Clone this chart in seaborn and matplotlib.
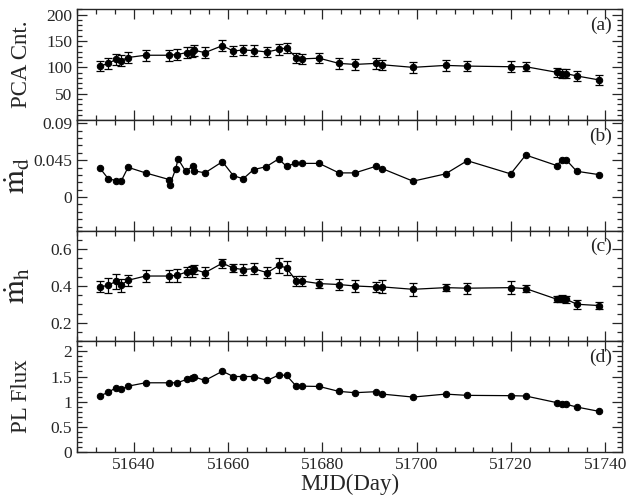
import numpy as np
import matplotlib
matplotlib.use("Agg")
import matplotlib.pyplot as plt
import seaborn as sns
from matplotlib.ticker import MultipleLocator, FixedLocator

# MJD of the observations (panels a, c, d)
mjd = [51632.9, 51634.6, 51636.2, 51637.3, 51638.8, 51642.5, 51647.5, 51649.2,
       51651.2, 51652.4, 51652.8, 51655.1, 51658.8, 51661.1, 51663.2, 51665.4,
       51668.3, 51670.8, 51672.4, 51674.5, 51675.6, 51679.3, 51683.5, 51686.9,
       51691.3, 51692.7, 51699.2, 51706.1, 51710.7, 51719.9, 51723.1, 51729.7,
       51730.7, 51731.7, 51733.9, 51738.6]

# panel (a) PCA count rate
pca = [102.4, 107.5, 115, 113, 118.7, 123, 123, 124.3, 128, 129, 132.4, 128,
       141.2, 131, 133, 131.8, 129.2, 134.3, 136.8, 118, 116.1, 117.4, 107.5,
       105.6, 107.5, 104.9, 100, 103.7, 102.4, 101.2, 101.2, 90.6, 88, 88,
       83.7, 76.2]
pca_err = [10, 10, 10, 10, 10, 10, 10, 10, 10, 10, 10, 10, 11, 10, 10, 10, 10,
           10, 10, 10, 10, 10, 10, 10, 10, 10, 10, 10, 10, 10, 9, 9, 9, 9, 9, 9]

# panel (b) disk accretion rate (few extra points)
mjd_b = [51632.8, 51634.6, 51636.2, 51637.4, 51638.8, 51642.5, 51647.5, 51647.6,
         51648.9, 51649.4, 51651.0, 51652.6, 51652.7, 51655.1, 51658.8, 51661.1,
         51663.2, 51665.4, 51668.1, 51670.7, 51672.4, 51674.2, 51675.6, 51679.3,
         51683.5, 51686.9, 51691.3, 51692.7, 51699.2, 51706.1, 51710.7, 51719.9,
         51723.1, 51729.7, 51730.7, 51731.7, 51733.9, 51738.6]
mdot_d = [0.0356, 0.0223, 0.0202, 0.0202, 0.0363, 0.0295, 0.0214, 0.0142,
          0.0344, 0.0465, 0.0315, 0.0380, 0.0322, 0.0295, 0.0432, 0.0262,
          0.0223, 0.0335, 0.0371, 0.0465, 0.0375, 0.0411, 0.0411, 0.0411,
          0.0295, 0.0295, 0.0375, 0.0347, 0.0194, 0.0283, 0.0444, 0.0283,
          0.0513, 0.0384, 0.0452, 0.0452, 0.0315, 0.0274]

# panel (c) halo accretion rate
mdot_h = [0.395, 0.404, 0.425, 0.404, 0.431, 0.454, 0.454, 0.458, 0.476, 0.481,
          0.490, 0.472, 0.524, 0.497, 0.489, 0.494, 0.472, 0.512, 0.497, 0.427,
          0.427, 0.413, 0.408, 0.400, 0.395, 0.395, 0.382, 0.391, 0.388, 0.391,
          0.386, 0.328, 0.332, 0.328, 0.301, 0.294]
mdot_h_err = [0.03, 0.04, 0.04, 0.035, 0.03, 0.03, 0.03, 0.035, 0.025, 0.03,
              0.025, 0.03, 0.025, 0.02, 0.03, 0.03, 0.03, 0.04, 0.04, 0.025,
              0.025, 0.025, 0.03, 0.03, 0.025, 0.035, 0.035, 0.02, 0.03, 0.035,
              0.02, 0.015, 0.02, 0.02, 0.025, 0.02]

# panel (d) power-law flux
pl_flux = [1.119, 1.184, 1.277, 1.243, 1.308, 1.375, 1.375, 1.375, 1.441, 1.474,
           1.494, 1.421, 1.605, 1.5, 1.5, 1.5, 1.421, 1.533, 1.52, 1.302, 1.308,
           1.302, 1.204, 1.178, 1.198, 1.15, 1.091, 1.15, 1.125, 1.119, 1.112,
           0.98, 0.947, 0.947, 0.893, 0.808]

sns.set_style("ticks")
plt.rcParams['font.family'] = ['Liberation Serif', 'DejaVu Serif']
plt.rcParams['mathtext.fontset'] = 'stix'

fig, axes = plt.subplots(4, 1, sharex=True, figsize=(6.27, 4.95), dpi=100)
fig.subplots_adjust(left=0.123, right=0.992, top=0.981, bottom=0.087, hspace=0)

panels = [
    (mjd, pca, pca_err, 'PCA Cnt.', '(a)'),
    (mjd_b, mdot_d, None, r'$\dot{\rm m}_{\rm d}$', '(b)'),
    (mjd, mdot_h, mdot_h_err, r'$\dot{\rm m}_{\rm h}$', '(c)'),
    (mjd, pl_flux, None, 'PL Flux', '(d)'),
]

for ax, (x, y, err, lab, tag) in zip(axes, panels):
    sns.lineplot(x=x, y=y, ax=ax, color='black', lw=0.9, marker='o',
                 markersize=4.6, markeredgecolor='black', sort=False)
    if err is not None:
        ax.errorbar(x, y, yerr=err, fmt='none', ecolor='black', elinewidth=0.9,
                    capsize=3, capthick=0.9)
    ax.text(0.981, 0.855, tag, transform=ax.transAxes, ha='right', va='center',
            fontsize=14)
    if lab.startswith('$'):
        ax.set_ylabel(lab, fontsize=22)
    else:
        ax.set_ylabel(lab, fontsize=16.5)
    ax.yaxis.set_label_coords(-0.082, 0.5)
    ax.tick_params(which='both', direction='in', top=True, right=True,
                   labelsize=12.5, width=0.9)
    ax.tick_params(which='major', length=7)
    ax.tick_params(which='minor', length=3.5)
    for s in ax.spines.values():
        s.set_linewidth(1.0)

ax = axes[0]
ax.set_ylim(0, 210)
ax.yaxis.set_major_locator(FixedLocator([50, 100, 150, 200]))
ax.yaxis.set_minor_locator(MultipleLocator(10))

ax = axes[1]
ax.set_ylim(-0.041, 0.094)
ax.yaxis.set_major_locator(FixedLocator([0, 0.045, 0.09]))
ax.yaxis.set_minor_locator(MultipleLocator(0.009))
ax.set_yticklabels(['0', '0.045', '0.09'])

ax = axes[2]
ax.set_ylim(0.1, 0.7)
ax.yaxis.set_major_locator(FixedLocator([0.2, 0.4, 0.6]))
ax.yaxis.set_minor_locator(MultipleLocator(0.05))

ax = axes[3]
ax.set_ylim(0, 2.2)
ax.yaxis.set_major_locator(FixedLocator([0, 0.5, 1, 1.5, 2]))
ax.yaxis.set_minor_locator(MultipleLocator(0.1))
ax.set_yticklabels(['0', '0.5', '1', '1.5', '2'])

ax.set_xlim(51628, 51743.5)
ax.xaxis.set_major_locator(MultipleLocator(20))
ax.xaxis.set_minor_locator(MultipleLocator(4))
ax.xaxis.get_major_formatter().set_useOffset(False)
ax.set_xlabel('MJD(Day)', fontsize=16.5, labelpad=1)

fig.savefig('out.png', dpi=100)
